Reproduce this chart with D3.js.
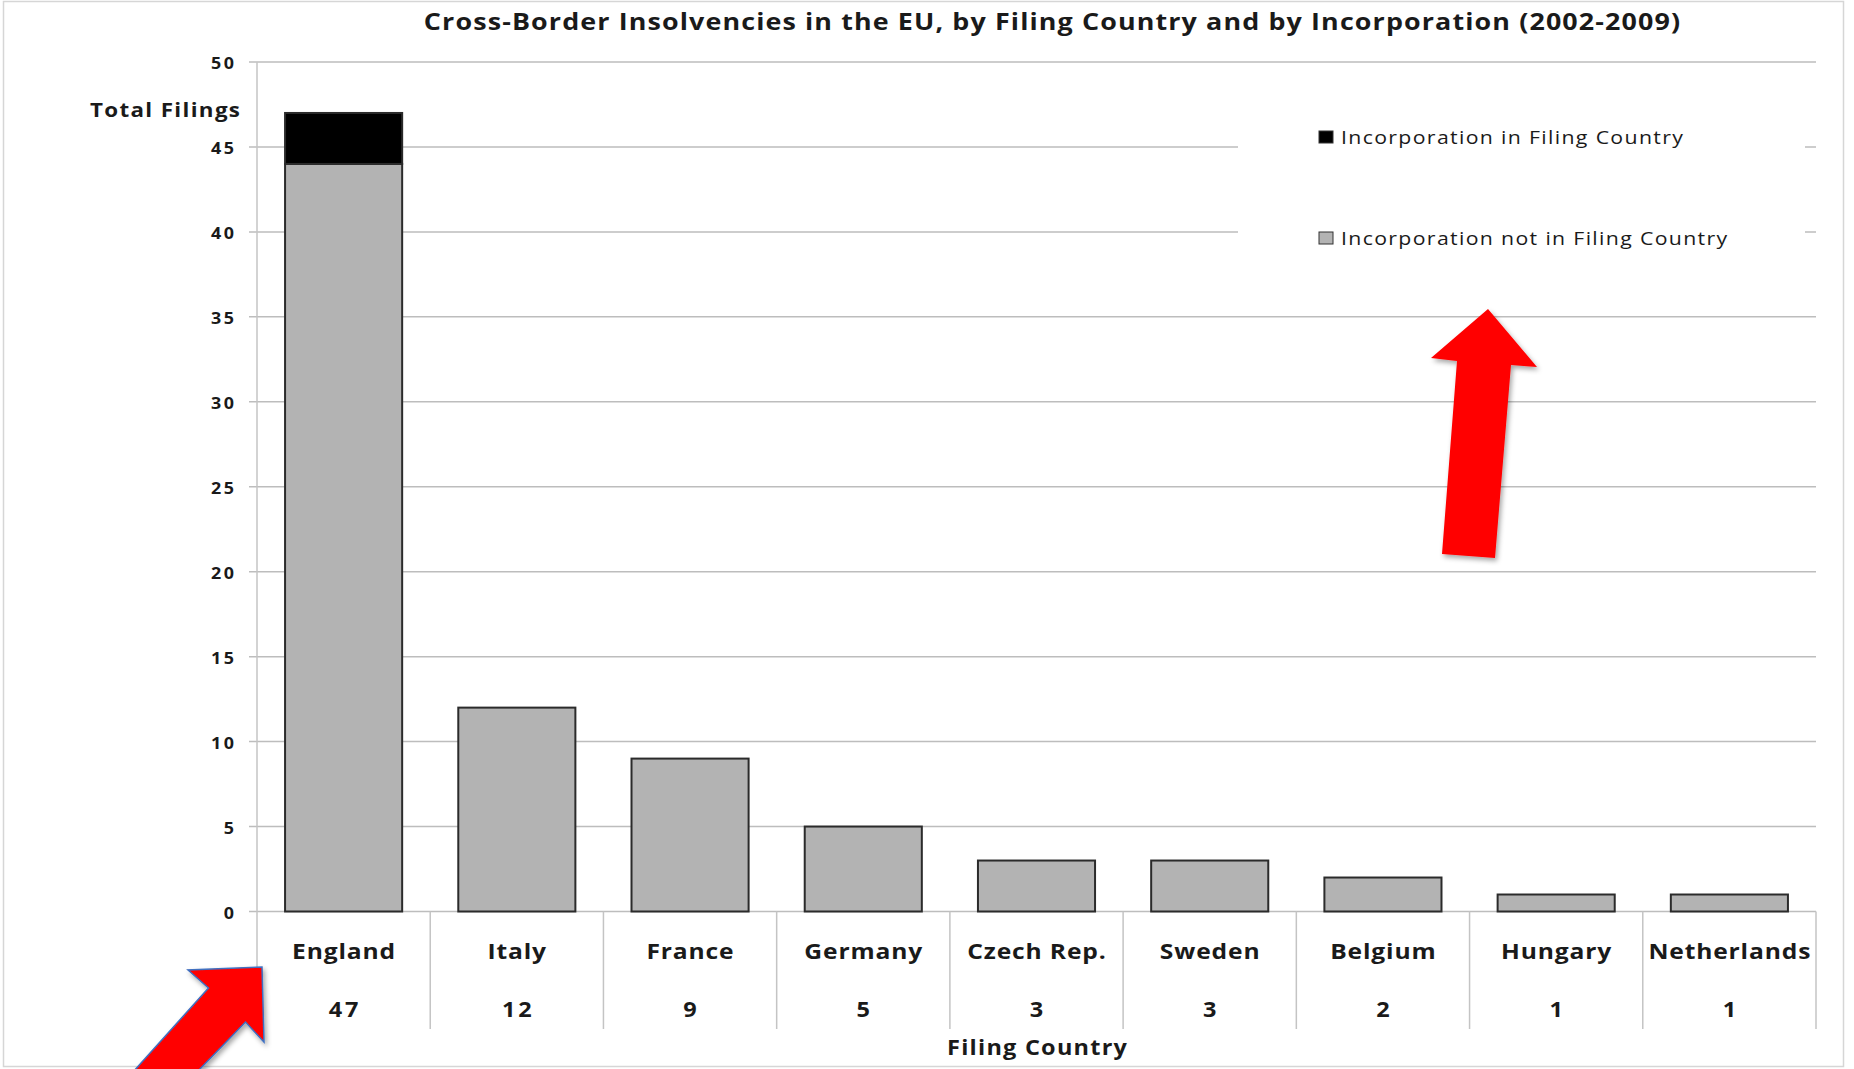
<!DOCTYPE html>
<html>
<head>
<meta charset="utf-8">
<script src="https://cdn.jsdelivr.net/npm/d3@7"></script>
<style>
  html, body { margin: 0; padding: 0; background: #fff; }
  svg { display: block; }
  text { font-family: "Open Sans", "Liberation Sans", sans-serif; fill: #1a1a1a; }
</style>
</head>
<body>
<svg id="chart" width="1854" height="1069"></svg>
<script>
// Filing countries and the split of filings by place of incorporation
const categories = ["England", "Italy", "France", "Germany", "Czech Rep.", "Sweden", "Belgium", "Hungary", "Netherlands"];
const incorporatedInCountry = [3, 0, 0, 0, 0, 0, 0, 0, 0];
const incorporatedElsewhere = [44, 12, 9, 5, 3, 3, 2, 1, 1];
const yTicks = [0, 5, 10, 15, 20, 25, 30, 35, 40, 45, 50];
const seriesNames = ["Incorporation in Filing Country", "Incorporation not in Filing Country"];
const titleText = "Cross-Border Insolvencies in the EU, by Filing Country and by Incorporation (2002-2009)";

const rows = categories.map((c, i) => ({
  country: c,
  elsewhere: incorporatedElsewhere[i],
  home: incorporatedInCountry[i]
}));
const totals = rows.map(r => r.elsewhere + r.home);

const svg = d3.select("#chart");
const plotLeft = 257, plotRight = 1816, tableBottom = 1029;

const x = d3.scaleBand().domain(categories).range([plotLeft, plotRight]).padding(0);
const y = d3.scaleLinear().domain([0, 50]).range([911.5, 62]);
const barW = x.bandwidth() * 0.676;

// wide, slightly tracked label text (horizontal stretch + letter spacing)
const STRETCH = 1.12;
function label(sel, px, py, size, weight, spacing, anchor) {
  sel.attr("transform", (d, i) => {
      const tx = typeof px === "function" ? px(d, i) : px;
      const ty = typeof py === "function" ? py(d, i) : py;
      return `translate(${tx},${ty}) scale(${STRETCH},1)`;
    })
    .attr("text-anchor", anchor)
    .style("font-size", size + "px")
    .style("font-weight", weight)
    .style("letter-spacing", spacing + "px")
    .attr("dx", anchor === "end" ? spacing : anchor === "middle" ? spacing / 2 : 0);
  return sel;
}

// outer frame
svg.append("rect").attr("x", 3.5).attr("y", 1.5).attr("width", 1840).attr("height", 1065)
  .attr("fill", "#fff").attr("stroke", "#d6d6d6").attr("stroke-width", 1.5);

// title
label(svg.append("text"), 1052, 30, 24, 700, 1.0, "middle").text(titleText);

// horizontal gridlines with short ticks left of the axis
svg.append("g").selectAll("line").data(yTicks).join("line")
  .attr("x1", plotLeft - 8).attr("x2", plotRight)
  .attr("y1", d => y(d)).attr("y2", d => y(d))
  .attr("stroke", "#bdbdbd").attr("stroke-width", 1.5);

// y tick labels
label(svg.append("g").selectAll("text").data(yTicks).join("text"),
  234, d => y(d) + 7, 16, 700, 2.2, "end").text(d => d);

label(svg.append("text"), 240, 117, 20, 700, 1.2, "end").text("Total Filings");

// legend panel (white box that hides the gridlines behind it)
const legend = svg.append("g");
legend.append("rect").attr("x", 1238).attr("y", 84).attr("width", 567).attr("height", 190).attr("fill", "#fff");
const legendColors = ["#000", "#b3b3b3"];
const legendY = [137, 238];
seriesNames.forEach((name, i) => {
  legend.append("rect").attr("x", 1319).attr("y", legendY[i] - 6).attr("width", 14).attr("height", 12)
    .attr("fill", legendColors[i]).attr("stroke", "#333").attr("stroke-width", 1);
  label(legend.append("text"), 1341, legendY[i] + 7, 19, 400, 1.2, "start").text(name);
});

// stacked bars
const stack = d3.stack().keys(["elsewhere", "home"]);
const layers = stack(rows);
const fills = { elsewhere: "#b3b3b3", home: "#000" };
svg.append("g").selectAll("g").data(layers).join("g")
  .attr("fill", d => fills[d.key])
  .selectAll("rect").data(d => d.filter(p => p[1] > p[0])).join("rect")
  .attr("x", d => x(d.data.country) + (x.bandwidth() - barW) / 2)
  .attr("y", d => y(d[1]))
  .attr("width", barW)
  .attr("height", d => y(d[0]) - y(d[1]))
  .attr("stroke", "#2b2b2b").attr("stroke-width", 2);

// category table: vertical separators, country names and totals
const bounds = categories.map(c => x(c)).concat([plotRight]);
svg.append("g").selectAll("line").data(bounds).join("line")
  .attr("x1", d => d).attr("x2", d => d)
  .attr("y1", (d, i) => i === 0 ? y(50) : y(0)).attr("y2", tableBottom)
  .attr("stroke", "#c4c4c4").attr("stroke-width", 1.5);

label(svg.append("g").selectAll("text").data(categories).join("text"),
  d => x(d) + x.bandwidth() / 2, 959, 22, 700, 0.75, "middle").text(d => d);

label(svg.append("g").selectAll("text").data(totals).join("text"),
  (d, i) => x(categories[i]) + x.bandwidth() / 2, 1017, 21, 700, 2.7, "middle").text(d => d);

label(svg.append("text"), 1037, 1055, 21, 700, 1.1, "middle").text("Filing Country");

// red callout arrows
const defs = svg.append("defs");
defs.append("filter").attr("id", "shadow").attr("x", "-20%").attr("y", "-20%").attr("width", "140%").attr("height", "140%")
  .append("feDropShadow").attr("dx", 2).attr("dy", 3).attr("stdDeviation", 2.5)
  .attr("flood-color", "#000").attr("flood-opacity", 0.35);

const line = d3.line();
const arrowUp = [[1488, 309], [1537, 367], [1511, 365], [1495, 558], [1442, 554], [1457, 361], [1431, 358]];
svg.append("path").attr("d", line(arrowUp) + "Z").attr("fill", "#ff0000").attr("filter", "url(#shadow)");

const arrowCorner = [[262, 967], [264, 1042], [245.5, 1022], [197, 1072], [133, 1072], [208.5, 988], [188, 970]];
svg.append("path").attr("d", line(arrowCorner) + "Z").attr("fill", "#ff0000")
  .attr("stroke", "#3f6fc0").attr("stroke-width", 1.5).attr("filter", "url(#shadow)");
</script>
</body>
</html>
